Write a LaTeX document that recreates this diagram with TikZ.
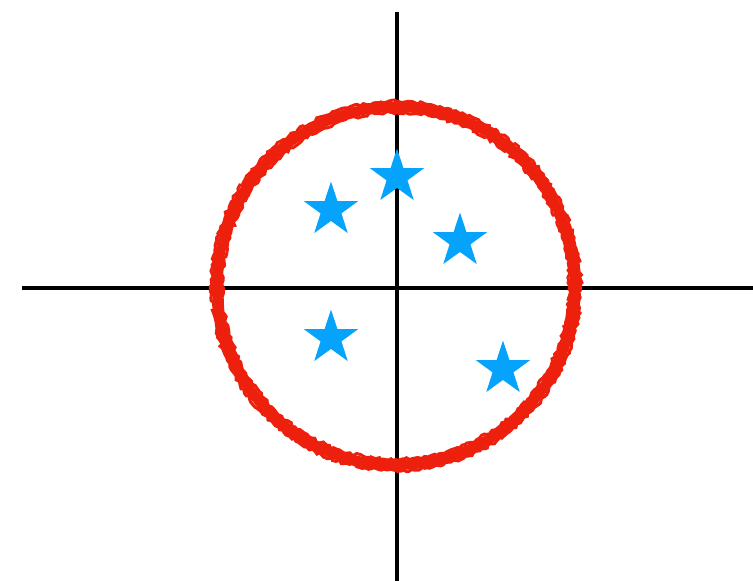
\documentclass[tikz,border=0pt]{standalone}
\usetikzlibrary{shapes.geometric,decorations.pathmorphing}
\definecolor{starblue}{RGB}{5,163,252}
\definecolor{inkred}{RGB}{236,32,12}
\tikzset{
  ax/.style={line width=4.5pt,black},
  pt/.style={star,star points=5,star point ratio=2.6,fill=starblue,draw=none,minimum size=57pt,inner sep=0pt},
  ring/.style={inkred,line width=10pt},
  rough/.style={inkred,line width=3pt,decorate,decoration={random steps,segment length=3pt,amplitude=1.5pt}},
}

\begin{document}
\begin{tikzpicture}[x=1pt,y=-1pt]
  \useasboundingbox (0,0) rectangle (753,581);
  % axes
  \coordinate (xl) at (22,288);
  \coordinate (xr) at (753,288);
  \coordinate (yt) at (397,12);
  \coordinate (yb) at (397,581);
  \draw[ax] (xl) -- (xr);
  \draw[ax] (yt) -- (yb);

  % circle
  \coordinate (o) at (396,286);
  \draw[ring] (o) circle[radius=179];
  \draw[rough] (o) circle[radius=184.5];
  \draw[rough] (o) circle[radius=173.5];

  % points
  \node[pt] (p1) at (397,177) {};
  \node[pt] (p2) at (331,210) {};
  \node[pt] (p3) at (460,241) {};
  \node[pt] (p4) at (331,338) {};
  \node[pt] (p5) at (503,369) {};
\end{tikzpicture}
\end{document}
